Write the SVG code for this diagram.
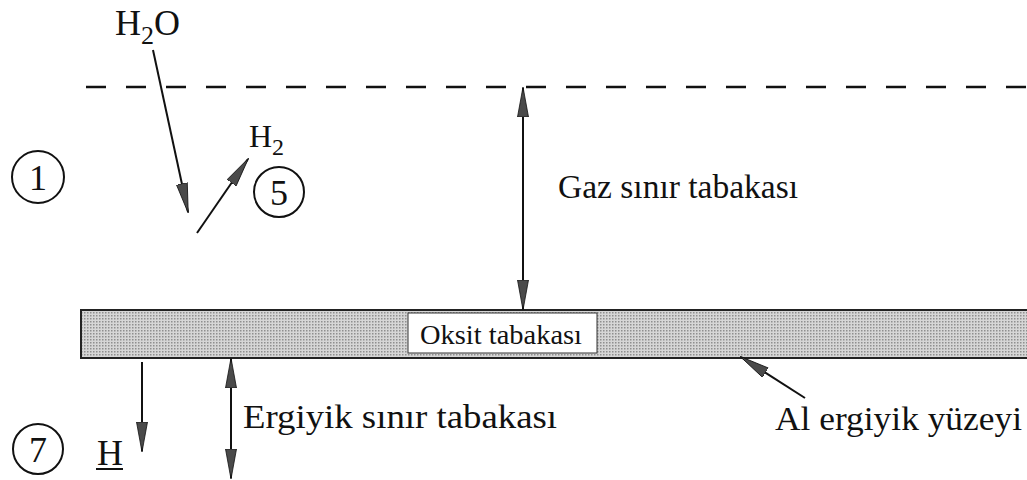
<svg xmlns="http://www.w3.org/2000/svg" width="1027" height="480" viewBox="0 0 1027 480">
<style>
.t{font-family:"Liberation Serif","Times New Roman",serif;fill:#111}
.ln{stroke:#111;stroke-width:2;fill:none}
.c{stroke:#111;stroke-width:2;fill:none}
</style>
<defs>
<marker id="ah" viewBox="0 0 30 12" refX="29" refY="6" markerWidth="30" markerHeight="12" markerUnits="userSpaceOnUse" orient="auto-start-reverse">
<path d="M0,0.5 L30,6 L0,11.5 Z" fill="#4a4a4a" stroke="#111" stroke-width="0.8"/>
</marker>
<pattern id="dots" width="3" height="3" patternUnits="userSpaceOnUse">
<rect width="3" height="3" fill="#d6d6d6"/>
<rect width="1.5" height="1.5" fill="#8f8f8f"/>
</pattern>
</defs>
<rect width="1027" height="480" fill="#fff"/>
<g id="gas-boundary">
<line x1="86" y1="87" x2="1027" y2="87" stroke="#111" stroke-width="2.5" stroke-dasharray="20 20"/>
</g>
<g id="oxide-layer">
<rect x="81" y="310" width="950" height="48" fill="url(#dots)" stroke="#222" stroke-width="2"/>
<rect x="408" y="313" width="189" height="40" fill="#fff" stroke="#333" stroke-width="1"/>
<text class="t" x="420" y="344" font-size="27" textLength="162" lengthAdjust="spacingAndGlyphs">Oksit tabakası</text>
</g>
<g id="label-h2o"><text class="t" x="115" y="35" font-size="36">H<tspan font-size="26" dy="9">2</tspan><tspan dy="-9">O</tspan></text></g>
<g id="label-h2"><text class="t" x="249" y="147" font-size="32">H<tspan font-size="24" dy="8">2</tspan></text></g>
<g id="circle-1"><circle class="c" cx="38" cy="177" r="26"/><text class="t" x="38" y="190" font-size="36" text-anchor="middle">1</text></g>
<g id="circle-5"><circle class="c" cx="279" cy="192" r="25"/><text class="t" x="279" y="205" font-size="36" text-anchor="middle">5</text></g>
<g id="circle-7"><circle class="c" cx="38" cy="449" r="25"/><text class="t" x="38" y="462" font-size="36" text-anchor="middle">7</text></g>
<g id="label-h"><text class="t" x="97" y="465" font-size="36">H</text><line x1="96" y1="469" x2="123" y2="469" stroke="#111" stroke-width="2"/></g>
<g id="label-gaz"><text class="t" x="558" y="198" font-size="34" textLength="240" lengthAdjust="spacingAndGlyphs">Gaz sınır tabakası</text></g>
<g id="label-ergiyik"><text class="t" x="243" y="428" font-size="34" textLength="314" lengthAdjust="spacingAndGlyphs">Ergiyik sınır tabakası</text></g>
<g id="label-al"><text class="t" x="775" y="430" font-size="34" textLength="247" lengthAdjust="spacingAndGlyphs">Al ergiyik yüzeyi</text></g>
<g id="connectors">
<line class="ln" x1="153" y1="50" x2="188" y2="212" marker-end="url(#ah)"/>
<line class="ln" x1="197" y1="233" x2="248" y2="159" marker-end="url(#ah)"/>
<line class="ln" x1="523" y1="88" x2="523" y2="309" marker-start="url(#ah)" marker-end="url(#ah)"/>
<line class="ln" x1="142" y1="362" x2="142" y2="451" marker-end="url(#ah)"/>
<line class="ln" x1="231" y1="359" x2="231" y2="478" marker-start="url(#ah)" marker-end="url(#ah)"/>
<line class="ln" x1="805" y1="398" x2="741" y2="357" marker-end="url(#ah)"/>
</g>
</svg>
